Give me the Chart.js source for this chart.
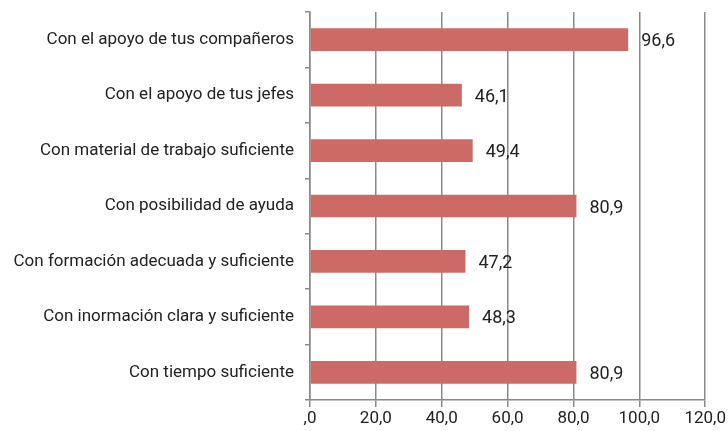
<!DOCTYPE html>
<html>
<head>
<meta charset="utf-8">
<script src="https://cdn.jsdelivr.net/npm/chart.js@4/dist/chart.umd.min.js"></script>
<style>
  html, body { margin: 0; padding: 0; background: #fff; }
  #wrap { width: 728px; height: 431px; position: relative; }
</style>
</head>
<body>
<div id="wrap"><canvas id="chart"></canvas></div>
<script>
const categories = [
  "Con el apoyo de tus compañeros",
  "Con el apoyo de tus jefes",
  "Con material de trabajo suficiente",
  "Con posibilidad de ayuda",
  "Con formación adecuada y suficiente",
  "Con inormación clara y suficiente",
  "Con tiempo suficiente"
];
const values = [96.6, 46.1, 49.4, 80.9, 47.2, 48.3, 80.9];
const xTickLabels = [",0", "20,0", "40,0", "60,0", "80,0", "100,0", "120,0"];

const FONT = "Roboto";
const fmt = v => v.toFixed(1).replace(".", ",");

// value labels to the right of each bar
const valueLabels = {
  id: "valueLabels",
  afterDatasetsDraw(chart) {
    const { ctx } = chart;
    const meta = chart.getDatasetMeta(0);
    ctx.save();
    ctx.font = `18px ${FONT}`;
    ctx.fillStyle = "#222";
    ctx.textAlign = "left";
    ctx.textBaseline = "middle";
    meta.data.forEach((bar, i) => {
      ctx.fillText(fmt(values[i]), bar.x + 13, bar.y + 2);
    });
    ctx.restore();
  }
};

const ctx = document.getElementById("chart").getContext("2d");
new Chart(ctx, {
  type: "bar",
  data: {
    labels: categories,
    datasets: [{
      data: values,
      backgroundColor: "#cd6a66",
      categoryPercentage: 1,
      barPercentage: 0.41
    }]
  },
  plugins: [valueLabels],
  options: {
    indexAxis: "y",
    responsive: true,
    maintainAspectRatio: false,
    animation: false,
    layout: { padding: { top: 12, right: 20, bottom: 0, left: 0 } },
    plugins: { legend: { display: false }, tooltip: { enabled: false } },
    scales: {
      x: {
        min: 0, max: 120,
        ticks: {
          stepSize: 20,
          color: "#222",
          font: { family: FONT, size: 17 },
          padding: 2,
          callback: (v, i) => xTickLabels[i]
        },
        grid: { color: "#8a8a8a", lineWidth: 1.5, tickLength: 7 },
        border: { display: true, color: "#8a8a8a", width: 1.5 },
        afterFit: s => { s.height = 31; }
      },
      y: {
        ticks: {
          color: "#222",
          font: { family: FONT, size: 17 },
          padding: 11
        },
        grid: { display: true, drawOnChartArea: false, offset: true, color: "#8a8a8a", lineWidth: 1.5, tickLength: 5 },
        border: { display: true, color: "#8a8a8a", width: 1.5 },
        afterFit: s => { s.width = 310; s.paddingTop = 0; s.paddingBottom = 0; }
      }
    }
  }
});
</script>
</body>
</html>
